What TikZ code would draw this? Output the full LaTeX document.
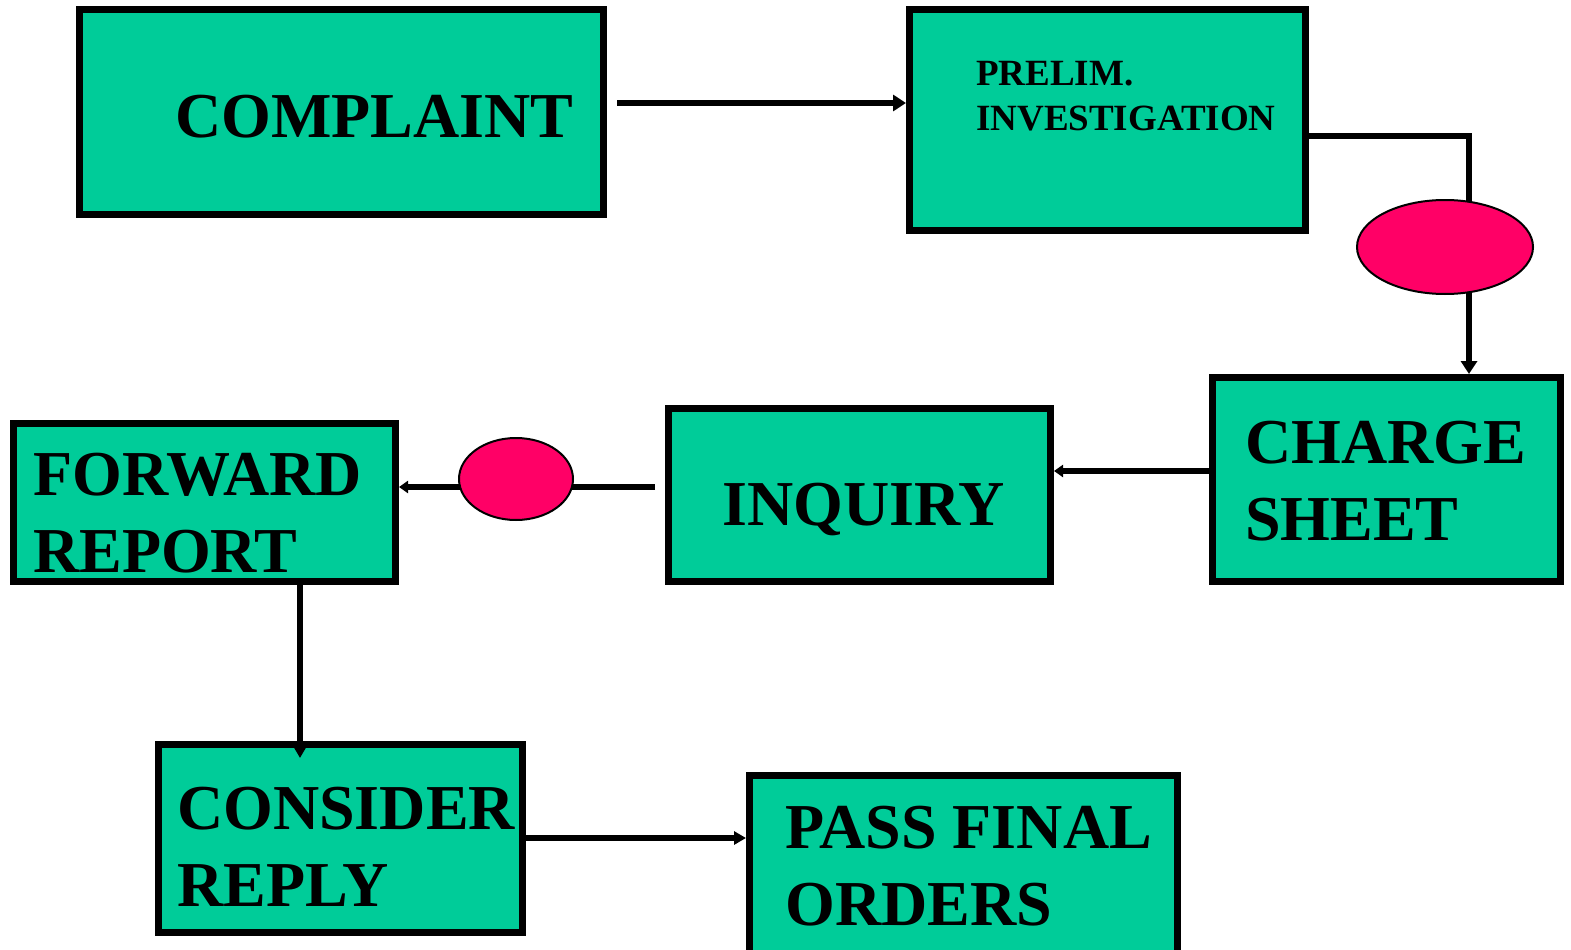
\documentclass[tikz,border=0pt]{standalone}
\usepackage{fontspec}
\setmainfont{Liberation Serif}
\usetikzlibrary{arrows.meta,shapes.geometric}
\definecolor{boxgreen}{RGB}{0,204,153}
\definecolor{ovalred}{RGB}{255,0,102}
\tikzset{
  box/.style={draw=black, line width=7pt, fill=boxgreen, inner sep=0pt, rectangle},
  bigtext/.style={font=\fontsize{64}{77}\selectfont\bfseries, align=left, inner sep=0pt, anchor=base west},
  smalltext/.style={font=\fontsize{37}{45}\selectfont\bfseries, align=left, inner sep=0pt, anchor=base west},
  oval/.style={ellipse, draw=black, line width=2pt, fill=ovalred, inner sep=0pt},
  conn/.style={draw=black, line width=6.5pt},
  bigtip/.style={-{Triangle[length=13pt,width=16pt]}},
  midtip/.style={-{Triangle[length=12pt,width=13pt]}},
  smalltip/.style={-{Triangle[length=9pt,width=12pt]}}
}
\begin{document}
\begin{tikzpicture}[x=1pt,y=-1pt]
\useasboundingbox (0,0) rectangle (1571,950);
\clip (0,0) rectangle (1571,950);
\fill[white] (0,0) rectangle (1571,950);
% boxes
\node[box, minimum width=524pt, minimum height=204pt] (complaint) at (341,112) {};
\node[box, minimum width=395.5pt, minimum height=220pt] (prelim) at (1107.25,120) {};
\node[box, minimum width=348pt, minimum height=204pt] (charge) at (1386.5,479.5) {};
\node[box, minimum width=382pt, minimum height=173pt] (inquiry) at (859.5,495) {};
\node[box, minimum width=382pt, minimum height=158pt] (forward) at (204.5,502.5) {};
\node[box, minimum width=364pt, minimum height=188pt] (consider) at (340.5,838.5) {};
\node[box, minimum width=428pt, minimum height=194.5pt] (pass) at (963.5,872.75) {};
% texts (anchor base = baseline of the last line)
\node[bigtext] (complaintT) at (175,137) {COMPLAINT};
\node[smalltext] (prelimT) at (976,130) {PRELIM.\\INVESTIGATION};
\node[bigtext] (chargeT) at (1245,540) {CHARGE\\SHEET};
\node[bigtext] (inquiryT) at (722,525) {INQUIRY};
\node[bigtext] (forwardT) at (33,572) {FORWARD\\REPORT};
\node[bigtext] (considerT) at (177,906) {CONSIDER\\REPLY};
\node[bigtext] (passT) at (785,925) {PASS FINAL\\ORDERS};
% connector helper coordinates
\coordinate (s1) at (617,103);
\coordinate (c1) at (1469,136);
\coordinate (c3) at (1100,471);
\coordinate (s2) at (655,487);
\coordinate (c4) at (300,600);
\coordinate (c5) at (600,838);
% connectors
\draw[conn, bigtip] (s1) -- (s1 -| prelim.west);
\draw[conn, bigtip] (c1 -| prelim.east) -- (c1) -- (c1 |- charge.north);
\draw[conn, line width=5.5pt, smalltip] (c3 -| charge.west) -- (c3 -| inquiry.east);
\draw[conn, line width=6pt, smalltip] (s2) -- (s2 -| forward.east);
\draw[conn, line width=6pt, midtip, shorten >=-17pt] (c4 |- forward.south) -- (c4 |- consider.north);
\draw[conn, line width=6pt, midtip] (c5 -| consider.east) -- (c5 -| pass.west);
% ovals
\node[oval, minimum width=176pt, minimum height=94pt] (oval1) at (1445,247) {};
\node[oval, minimum width=114pt, minimum height=82pt] (oval2) at (516,479) {};
\end{tikzpicture}
\end{document}
